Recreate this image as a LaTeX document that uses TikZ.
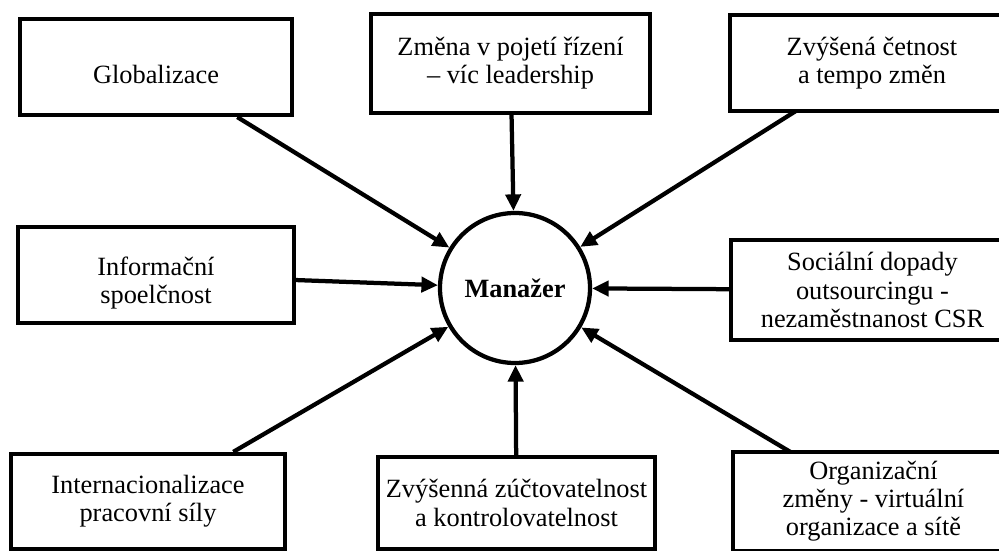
\documentclass[tikz,border=0pt]{standalone}
\usepackage{fontspec}
\setmainfont{Liberation Serif}
\usepackage{tikz}
\usetikzlibrary{arrows.meta, positioning, calc}

\begin{document}
\begin{tikzpicture}[
    box/.style={draw, line width=0.85mm, minimum width=5.5cm,
        minimum height=1.92cm, inner xsep=2pt, align=center,
        font=\fontsize{15}{16}\selectfont},
    openbox/.style={box, draw=none},
    frame/.style={line width=0.85mm},
    lowtext/.style={text height=#1},
    hub/.style={draw, circle, line width=0.85mm, minimum size=3cm,
        inner sep=0pt, font=\fontsize{15}{16}\selectfont\bfseries},
    arr/.style={-{Triangle[length=3.3mm, width=3mm]}, line width=0.85mm},
]
\useasboundingbox (0,0) rectangle (19.98,11);
\clip (0,0) rectangle (19.98,11);

% ---- centre ----
\node[hub] (mgr) at (10.30,5.24) {Manažer};

% ---- top row ----
\node[box, lowtext=19.5pt, minimum width=5.44cm] (glob) at (3.12,9.66)
    {Globalizace};
\node[box, minimum width=5.58cm, minimum height=1.98cm] (zmena) at (10.21,9.73)
    {Změna v pojetí řízení\\– víc leadership};
\node[openbox, minimum width=5.6cm, minimum height=1.84cm] (tempo) at (17.44,9.74)
    {Zvýšená četnost\\a tempo změn};

% ---- middle row ----
\node[box, lowtext=35.5pt, minimum width=5.52cm] (info) at (3.12,5.50)
    {Informační\\spoelčnost};
\node[openbox, minimum width=5.58cm] (csr) at (17.45,5.20)
    {Sociální dopady\\outsourcingu -\\nezaměstnanost CSR};

% ---- bottom row ----
\node[box, minimum width=5.48cm, minimum height=1.90cm] (intl) at (2.96,0.97)
    {Internacionalizace\\pracovní síly};
\node[box, minimum width=5.54cm, minimum height=1.84cm] (kontrola) at (10.33,0.94)
    {Zvýšenná zúčtovatelnost\\a kontrolovatelnost};
\node[openbox, minimum width=5.54cm, minimum height=1.90cm] (org) at (17.47,0.97)
    {Organizační\\změny - virtuální\\organizace a sítě};

% right-hand frames run past the page edge
\draw[frame] (tempo.north west) rectangle ([xshift=1cm]tempo.south east);
\draw[frame] (csr.north west) rectangle ([xshift=1cm]csr.south east);
\draw[frame] (org.north west) rectangle ([xshift=1cm]org.south east);

% ---- arrows into the centre ----
\draw[arr] (glob) -- (mgr);
\draw[arr] (zmena) -- (mgr);
\draw[arr] (tempo) -- (mgr);
\draw[arr] (info) -- (mgr);
\draw[arr] (csr) -- (mgr);
\draw[arr] (intl) -- (mgr);
\draw[arr] (kontrola) -- (mgr);
\draw[arr] (org) -- (mgr);

\end{tikzpicture}
\end{document}
